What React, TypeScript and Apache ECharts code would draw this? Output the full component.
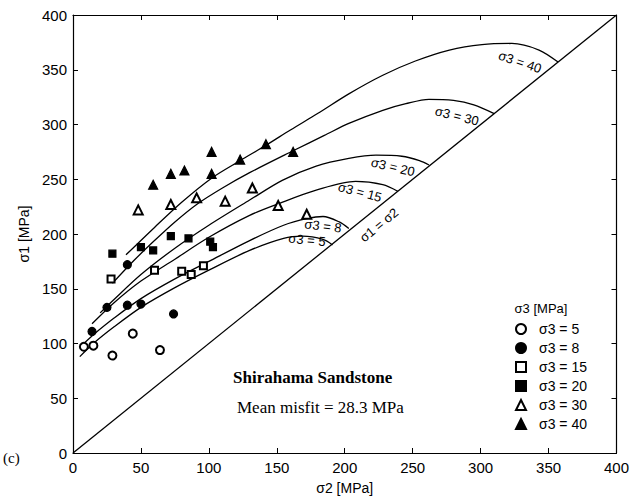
import React, { useEffect, useRef } from "react";
import * as echarts from "echarts";

// Measured points (σ2, σ1) for each σ3 level
const names = ["σ3 = 5", "σ3 = 8", "σ3 = 15", "σ3 = 20", "σ3 = 30", "σ3 = 40"];
const pts5 = [[8, 97], [15, 98], [29, 89], [44, 109], [64, 94]];
const pts8 = [[14, 111], [25, 133], [40, 135], [50, 136], [74, 127], [40, 172]];
const pts15 = [[28, 159], [60, 167], [80, 166], [87, 163], [96, 171]];
const pts20 = [[29, 182], [50, 188], [59, 185], [72, 198], [85, 196], [101, 193], [103, 188]];
const pts30 = [[48, 222], [72, 227], [91, 233], [112, 230], [132, 242], [151, 226], [172, 218]];
const pts40 = [[59, 245], [72, 255], [82, 258], [102, 275], [102, 255], [123, 268], [142, 282], [162, 275]];

// Fitted criterion curves
const fit5 = [[5, 88], [15, 100], [30, 115], [50, 133], [75, 151], [100, 167], [130, 185], [155, 196], [169, 198], [184, 195], [191, 190]];
const fit8 = [[8, 100], [15, 108], [30, 123], [50, 141], [75, 159], [100, 175], [130, 194], [155, 208], [172, 214], [184, 216], [196, 211], [203, 205]];
const fit15 = [[14, 118], [30, 137], [50, 157], [75, 177], [100, 197], [130, 217], [152, 228], [179, 240], [208, 248], [228, 245], [239, 239]];
const fit20 = [[20, 128], [30, 140], [50, 163], [75, 187], [100, 208], [130, 231], [154, 249], [179, 262], [203, 269], [223, 272], [242, 271], [255, 267], [262, 263]];
const fit30 = [[29, 155], [45, 176], [60, 194], [75, 211], [91, 227], [110, 242], [130, 256], [162, 276], [185, 290], [203, 301], [228, 313], [245, 319], [262, 323], [280, 322], [295, 318], [310, 310]];
const fit40 = [[39, 181], [60, 206], [80, 229], [102, 251], [123, 267], [142, 281], [160, 295], [180, 310], [203, 328], [228, 345], [252, 358], [277, 368], [301, 373], [323, 374], [343, 368], [357, 357]];
const diagonal = [[0, 0], [400, 400]];

const axisMin = 0;
const axisMax = 400;
const axisStep = 50;

const SANS = "'Liberation Sans', Arial, sans-serif";
const SERIF = "'Liberation Serif', 'Times New Roman', serif";

export default function App() {
  const ref = useRef<HTMLDivElement>(null);
  useEffect(() => {
    const chart = echarts.init(ref.current!, null, { renderer: "svg" });
    const axisCommon = {
      type: "value",
      min: axisMin,
      max: axisMax,
      interval: axisStep,
      axisLine: { onZero: false, lineStyle: { color: "#000", width: 1.2 } },
      axisTick: { inside: true, length: 5, lineStyle: { color: "#000" } },
      splitLine: { show: false },
    };
    const curve = (data: number[][]) => ({
      type: "line",
      data,
      smooth: 0.3,
      showSymbol: false,
      silent: true,
      lineStyle: { color: "#000", width: 1.3 },
      z: 2,
    });
    const scat = (name: string, data: number[][], symbol: string, size: number) => ({
      type: "scatter",
      name,
      data,
      symbol,
      symbolSize: size,
      itemStyle: { color: "#000", borderColor: "#000", borderWidth: 1.2, opacity: 1 },
      z: 5,
    });
    const lbl = (text: string, x: number, y: number, rot: number) => ({
      type: "text",
      x,
      y,
      rotation: rot,
      style: {
        text,
        font: `13px ${SANS}`,
        fill: "#000",
        align: "center",
        verticalAlign: "middle",
      },
    });
    chart.setOption({
      animation: false,
      backgroundColor: "#fff",
      grid: { left: 73, top: 15, width: 545, height: 438, containLabel: false },
      xAxis: [
        {
          ...axisCommon,
          position: "bottom",
          name: "σ2 [MPa]",
          nameLocation: "middle",
          nameGap: 28,
          nameTextStyle: { fontSize: 14, fontFamily: SANS, color: "#000" },
          axisLabel: { fontSize: 15, fontFamily: SANS, color: "#000", margin: 7 },
        },
        { ...axisCommon, position: "top", axisLabel: { show: false } },
      ],
      yAxis: [
        {
          ...axisCommon,
          position: "left",
          name: "σ1 [MPa]",
          nameLocation: "middle",
          nameGap: 32,
          nameTextStyle: { fontSize: 14, fontFamily: SANS, color: "#000" },
          axisLabel: { fontSize: 15, fontFamily: SANS, color: "#000", margin: 6 },
        },
        { ...axisCommon, position: "right", axisLabel: { show: false } },
      ],
      legend: {
        orient: "vertical",
        left: 515,
        top: 322,
        itemWidth: 10,
        itemHeight: 10,
        itemGap: 5,
        padding: 0,
        textStyle: { fontSize: 14, fontFamily: SANS, color: "#000", lineHeight: 14, padding: [0, 0, 0, 8] },
        data: names,
      },
      series: [
        curve(fit5),
        curve(fit8),
        curve(fit15),
        curve(fit20),
        curve(fit30),
        curve(fit40),
        { ...curve(diagonal), smooth: false },
        scat(names[0], pts5, "emptyCircle", 8),
        scat(names[1], pts8, "circle", 8),
        scat(names[2], pts15, "emptyRect", 7),
        scat(names[3], pts20, "rect", 7),
        scat(names[4], pts30, "emptyTriangle", 9),
        scat(names[5], pts40, "triangle", 9),
      ],
      graphic: [
        lbl("σ3 = 40", 520, 62, -0.33),
        lbl("σ3 = 30", 457, 116, -0.24),
        lbl("σ3 = 20", 393, 167, -0.23),
        lbl("σ3 = 15", 360, 192, -0.26),
        lbl("σ3 = 8", 323, 226, -0.12),
        lbl("σ3 = 5", 307, 240, -0.1),
        lbl("σ1 = σ2", 379, 225, 0.68),
        {
          type: "text",
          x: 541,
          y: 308,
          style: { text: "σ3 [MPa]", font: `13px ${SANS}`, fill: "#000", align: "center", verticalAlign: "middle" },
        },
        {
          type: "text",
          x: 233,
          y: 377,
          style: { text: "Shirahama Sandstone", font: `bold 17px ${SERIF}`, fill: "#000", align: "left", verticalAlign: "middle" },
        },
        {
          type: "text",
          x: 237,
          y: 407,
          style: { text: "Mean misfit = 28.3 MPa", font: `17px ${SERIF}`, fill: "#000", align: "left", verticalAlign: "middle" },
        },
        {
          type: "text",
          x: 3,
          y: 458,
          style: { text: "(c)", font: `15px ${SERIF}`, fill: "#000", align: "left", verticalAlign: "middle" },
        },
      ],
    });
    return () => chart.dispose();
  }, []);
  return (
    <div
      ref={ref}
      style={{ width: 632, height: 500, position: "absolute", left: 0, top: 0, background: "#fff" }}
    />
  );
}
